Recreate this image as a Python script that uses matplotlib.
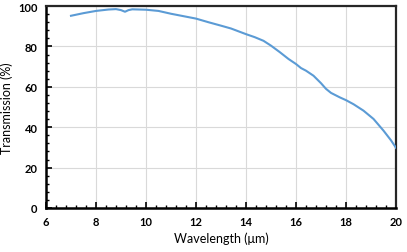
import matplotlib
matplotlib.use("Agg")
import matplotlib.pyplot as plt
from matplotlib.ticker import MultipleLocator

wavelength = [7.0, 7.5, 8.0, 8.5, 8.8, 9.0, 9.16, 9.3, 9.45, 10.0, 10.5, 11.0, 11.5,
              12.0, 12.5, 13.0, 13.4, 14.0, 14.35, 14.7, 15.0, 15.35, 15.7,
              16.0, 16.2, 16.4, 16.7, 17.0, 17.2, 17.4, 17.75, 18.0, 18.3,
              18.7, 19.1, 19.5, 19.8, 20.0]
transmission = [95.2, 96.5, 97.6, 98.3, 98.5, 98.0, 97.2, 98.0, 98.4, 98.2, 97.6, 96.2, 95.0,
                93.8, 92.0, 90.3, 88.9, 86.1, 84.6, 82.8, 80.4, 77.2, 73.8,
                71.3, 69.3, 68.0, 65.5, 61.8, 59.0, 57.0, 54.8, 53.4, 51.4,
                48.2, 44.1, 38.3, 33.5, 29.8]

xticks = [6, 8, 10, 12, 14, 16, 18, 20]
yticks = [0, 20, 40, 60, 80, 100]

plt.rcParams['font.family'] = ['Lato', 'DejaVu Sans']

fig = plt.figure(figsize=(4.07, 2.53), dpi=100)
ax = fig.add_axes([0.113, 0.174, 0.860, 0.798])

ax.plot(wavelength, transmission, color='#5B9BD5', lw=1.5, zorder=3)

ax.set_xlim(6, 20)
ax.set_ylim(0, 100)
ax.set_xticks(xticks)
ax.set_yticks(yticks)
ax.xaxis.set_minor_locator(MultipleLocator(0.4))
ax.yaxis.set_minor_locator(MultipleLocator(4))
ax.grid(True, which='major', color='#d9d9d9', lw=0.8, zorder=0)
ax.set_axisbelow(True)

ax.tick_params(which='major', direction='in', length=4, width=1.2, color='black',
               labelsize=8, pad=6)
ax.tick_params(which='minor', direction='in', length=2.5, width=1.0, color='black')
for lab in ax.get_xticklabels() + ax.get_yticklabels():
    lab.set_fontweight('bold')

for s in ['left', 'bottom']:
    ax.spines[s].set_linewidth(1.8)
    ax.spines[s].set_color('black')
for s in ['top', 'right']:
    ax.spines[s].set_linewidth(1.6)
    ax.spines[s].set_color('#262626')

ax.set_xlabel('Wavelength (μm)', fontsize=9, labelpad=3)
ax.set_ylabel('Transmission (%)', fontsize=9, labelpad=4)

fig.savefig('out.png', dpi=100)
